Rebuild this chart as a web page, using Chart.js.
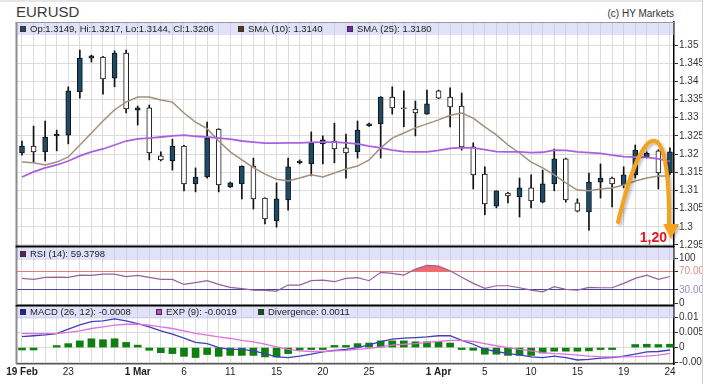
<!DOCTYPE html>
<html>
<head>
<meta charset="utf-8">
<title>EURUSD</title>
<script src="https://cdn.jsdelivr.net/npm/chart.js@4.4.1/dist/chart.umd.min.js"></script>
<style>
  html, body { margin: 0; padding: 0; background: #fff; }
  #wrap { position: relative; width: 708px; height: 384px; overflow: hidden; font-family: "Liberation Sans", Arial, sans-serif; }
  #wrap canvas { position: absolute; left: 0; top: 0; }
  #title { position: absolute; left: 16px; top: 4px; font-size: 15px; line-height: 15px; color: #3a3a3a; }
  #copy { position: absolute; right: 34px; top: 9px; font-size: 10px; line-height: 10px; color: #333; }
  #edge { position: absolute; left: 702px; top: 0; width: 6px; height: 384px; background: #fff; border-left: 1px solid #cfcfcf; z-index: 5; }
  #topEdge { position: absolute; left: 0; top: 0; width: 708px; height: 2px; background: #e6e6e6; z-index: 5; }
</style>
</head>
<body>
<div id="wrap">
  <div id="topEdge"></div>
  <div id="title">EURUSD</div>
  <div id="copy">(c) HY Markets</div>
  <canvas id="priceChart" width="708" height="384"></canvas>
  <canvas id="rsiChart" width="708" height="384"></canvas>
  <canvas id="macdChart" width="708" height="384"></canvas>
  <div id="edge"></div>
</div>
<script>
// EURUSD daily candles with SMA, RSI and MACD panels

const opens  = [1.3203, 1.3222, 1.3206, 1.3250, 1.3252, 1.3371, 1.3464, 1.3467, 1.3409, 1.3478,
                1.3321, 1.3327, 1.3195, 1.3181, 1.3222, 1.3118, 1.3137, 1.3269, 1.3110, 1.3118,
                1.3167, 1.3079, 1.3016, 1.3074, 1.3176, 1.3173, 1.3228, 1.3236, 1.3217, 1.3206,
                1.3278, 1.3283, 1.3357, 1.3327, 1.3324, 1.3310, 1.3374, 1.3357, 1.3332, 1.3220,
                1.3145, 1.3057, 1.3093, 1.3082, 1.3107, 1.3068, 1.3118, 1.3187, 1.3066, 1.3041,
                1.3123, 1.3134, 1.3115, 1.3143, 1.3192, 1.3209, 1.3149];
const highs  = [1.3236, 1.3277, 1.3291, 1.3266, 1.3385, 1.3486, 1.3472, 1.3469, 1.3484, 1.3486,
                1.3332, 1.3335, 1.3206, 1.3241, 1.3224, 1.3162, 1.3288, 1.3270, 1.3123, 1.3168,
                1.3189, 1.3080, 1.3121, 1.3189, 1.3184, 1.3261, 1.3250, 1.3285, 1.3255, 1.3291,
                1.3285, 1.3358, 1.3385, 1.3374, 1.3346, 1.3376, 1.3376, 1.3382, 1.3368, 1.3231,
                1.3165, 1.3099, 1.3095, 1.3134, 1.3143, 1.3156, 1.3214, 1.3189, 1.3077, 1.3148,
                1.3173, 1.3137, 1.3165, 1.3225, 1.3206, 1.3212, 1.3217];
const lows   = [1.3197, 1.3178, 1.3181, 1.3209, 1.3228, 1.3354, 1.3453, 1.3365, 1.3385, 1.3313,
                1.3280, 1.3184, 1.3181, 1.3156, 1.3099, 1.3096, 1.3134, 1.3096, 1.3108, 1.3077,
                1.3049, 1.3008, 1.2999, 1.3046, 1.3173, 1.3140, 1.3173, 1.3176, 1.3134, 1.3189,
                1.3276, 1.3189, 1.3310, 1.3275, 1.3250, 1.3310, 1.3352, 1.3275, 1.3211, 1.3104,
                1.3033, 1.3052, 1.3066, 1.3027, 1.3052, 1.3066, 1.3099, 1.3068, 1.3041, 1.2991,
                1.3079, 1.3055, 1.3107, 1.3134, 1.3189, 1.3104, 1.3144];
const closes = [1.3222, 1.3206, 1.3247, 1.3255, 1.3374, 1.3464, 1.3470, 1.3407, 1.3478, 1.3324,
                1.3327, 1.3203, 1.3184, 1.3222, 1.3118, 1.3137, 1.3244, 1.3115, 1.3121, 1.3167,
                1.3077, 1.3022, 1.3077, 1.3165, 1.3181, 1.3230, 1.3239, 1.3214, 1.3203, 1.3266,
                1.3283, 1.3357, 1.3327, 1.3325, 1.3313, 1.3338, 1.3354, 1.3330, 1.3220, 1.3143,
                1.3063, 1.3099, 1.3085, 1.3107, 1.3071, 1.3118, 1.3187, 1.3074, 1.3043, 1.3123,
                1.3134, 1.3118, 1.3143, 1.3211, 1.3203, 1.3148, 1.3206];

const sma10 = [1.3178, 1.3176, 1.3170, 1.3178, 1.3192, 1.3225, 1.3258, 1.3291, 1.3322, 1.3343,
               1.3357, 1.3357, 1.3349, 1.3343, 1.3313, 1.3288, 1.3270, 1.3236, 1.3206, 1.3184,
               1.3163, 1.3145, 1.3131, 1.3126, 1.3134, 1.3143, 1.3137, 1.3148, 1.3159, 1.3167,
               1.3184, 1.3217, 1.3244, 1.3258, 1.3272, 1.3283, 1.3294, 1.3307, 1.3313, 1.3299,
               1.3275, 1.3253, 1.3225, 1.3203, 1.3178, 1.3162, 1.3143, 1.3121, 1.3101, 1.3099,
               1.3104, 1.3107, 1.3115, 1.3126, 1.3134, 1.3140, 1.3140];
const sma25 = [1.3137, 1.3151, 1.3162, 1.3170, 1.3181, 1.3195, 1.3206, 1.3214, 1.3225, 1.3236,
               1.3242, 1.3244, 1.3247, 1.3250, 1.3252, 1.3249, 1.3247, 1.3244, 1.3241, 1.3236,
               1.3233, 1.3230, 1.3230, 1.3231, 1.3231, 1.3232, 1.3233, 1.3233, 1.3231, 1.3228,
               1.3222, 1.3217, 1.3211, 1.3207, 1.3206, 1.3206, 1.3210, 1.3216, 1.3218, 1.3217,
               1.3212, 1.3207, 1.3206, 1.3206, 1.3204, 1.3205, 1.3211, 1.3210, 1.3206, 1.3204,
               1.3202, 1.3197, 1.3193, 1.3192, 1.3191, 1.3187, 1.3180];

const rsi = [55.4, 53, 57.6, 57.9, 57.6, 62.6, 62, 64.8, 64.8, 59,
             62, 57.6, 53, 53, 42, 45.8, 50.2, 42, 35.5, 32.6,
             29.7, 29, 27.5, 40.7, 40.7, 50.2, 51.6, 48, 55.4, 56.8,
             50.2, 68.5, 66.3, 62.6, 75.8, 83.9, 82.4, 72.1, 57.6, 44.4,
             33.4, 39.1, 39.1, 34.7, 29.7, 25.9, 37, 31.2, 29.7, 35.5,
             34.7, 34.7, 44.4, 55.4, 62.6, 53.2, 59.3798];

const macd = [0.0036, 0.0039, 0.0042, 0.0046, 0.0061, 0.0075, 0.0086, 0.0088, 0.0095, 0.0088,
              0.0079, 0.0068, 0.0055, 0.0044, 0.0031, 0.0017, 0.0013, 0.0000, -0.0006, -0.0006,
              -0.0011, -0.0020, -0.0031, -0.0033, -0.0028, -0.0022, -0.0014, -0.0009, -0.0006, 0.0000,
              0.0009, 0.0020, 0.0028, 0.0031, 0.0033, 0.0035, 0.0039, 0.0039, 0.0024, 0.0011,
              -0.0006, -0.0013, -0.0020, -0.0024, -0.0031, -0.0033, -0.0028, -0.0033, -0.0041, -0.0039,
              -0.0035, -0.0033, -0.0028, -0.0022, -0.0014, -0.0013, -0.0008];
const signal = [0.0046, 0.0046, 0.0046, 0.0047, 0.0050, 0.0055, 0.0063, 0.0068, 0.0074, 0.0077,
                0.0077, 0.0074, 0.0068, 0.0063, 0.0055, 0.0047, 0.0041, 0.0035, 0.0030, 0.0024,
                0.0019, 0.0011, 0.0002, -0.0006, -0.0011, -0.0013, -0.0013, -0.0011, -0.0009, -0.0006,
                -0.0003, 0.0002, 0.0008, 0.0011, 0.0013, 0.0017, 0.0020, 0.0024, 0.0024, 0.0020,
                0.0013, 0.0006, 0.0000, -0.0006, -0.0011, -0.0017, -0.0020, -0.0022, -0.0025, -0.0028,
                -0.0030, -0.0031, -0.0031, -0.0030, -0.0028, -0.0025, -0.0019];
const divergence = [-0.0008, -0.0008, null, 0.0005, 0.0013, 0.0022, 0.0029, 0.0026, 0.0029, 0.0017,
                    0.0008, -0.0009, -0.0017, -0.0020, -0.0029, -0.0033, -0.0023, -0.0029, -0.0026, -0.0026,
                    -0.0026, -0.0031, -0.0031, -0.0020, -0.0008, -0.0003, -0.0003, 0.0007, 0.0007, 0.0013,
                    0.0015, 0.0022, 0.0022, 0.0022, 0.0019, 0.0019, 0.0019, 0.0015, -0.0003, -0.0009,
                    -0.0022, -0.0022, -0.0026, -0.0026, -0.0026, -0.0018, -0.0012, -0.0012, -0.0012, -0.0011,
                    -0.0004, -0.0003, null, 0.0010, 0.0011, 0.0010, 0.0011];

const dateSlots  = [0, 4, 10, 14, 18, 22, 26, 30, 36, 40, 44, 48, 52, 56];
const dateLabels = ['19 Feb', '23', '1 Mar', '6', '11', '15', '20', '25', '1 Apr', '5', '10', '15', '19', '24'];
const monthSlots = [0, 10, 36];

const priceTicks = [1.295, 1.3, 1.305, 1.31, 1.315, 1.32, 1.325, 1.33, 1.335, 1.34, 1.345, 1.35];
const rsiTicks   = [0, 30, 70, 100];
const macdTicks  = [-0.005, 0, 0.005, 0.01];

const slots = opens.map((_, i) => i);
const last = opens.length - 1;
const X_MIN = -0.432;
const X_MAX = 56.35;
const GRID = '#dcdcdc';
const FONT = '"Liberation Sans", Arial, sans-serif';

Chart.defaults.font.family = FONT;
Chart.defaults.font.size = 10;
Chart.defaults.color = '#333';
Chart.defaults.animation = false;

function points(values) {
    return values.map((v, i) => ({ x: i, y: v }));
}

// Shared x axis: one grid line per trading slot, date labels only on the bottom panel
function slotAxis(showLabels) {
    return {
        type: 'linear',
        min: X_MIN,
        max: X_MAX,
        offset: false,
        afterBuildTicks: scale => { scale.ticks = slots.map(v => ({ value: v })); },
        afterFit: scale => { scale.height = showLabels ? 14 : 0; },
        grid: { color: GRID, drawTicks: false, offset: false },
        border: { display: showLabels, color: '#555', width: 1.5 },
        ticks: {
            display: showLabels,
            autoSkip: false,
            maxRotation: 0,
            padding: 2,
            color: '#222',
            callback: value => {
                const k = dateSlots.indexOf(value);
                return k < 0 ? '' : dateLabels[k];
            },
            font: ctx => ({
                size: 10,
                weight: ctx.tick && monthSlots.includes(ctx.tick.value) ? 'bold' : 'normal'
            })
        }
    };
}

function valueAxis(min, max, tickValues, format) {
    return {
        position: 'right',
        min: min,
        max: max,
        afterBuildTicks: scale => { scale.ticks = tickValues.map(v => ({ value: v })); },
        afterFit: scale => { scale.width = 34; },
        grid: { color: GRID, tickColor: '#333', tickLength: 4 },
        border: { color: '#000', width: 1.5 },
        ticks: { padding: 1, color: '#333', callback: format }
    };
}

// Legend band, panel edges and legend entries
const panelDecor = {
    id: 'panelDecor',
    beforeDatasetsDraw(chart, args, opts) {
        const { ctx, chartArea: a } = chart;
        ctx.save();
        ctx.fillStyle = 'rgba(196, 196, 244, 0.5)';
        ctx.fillRect(a.left, a.top + opts.bandOffset, a.right - a.left, opts.bandHeight);
        ctx.restore();
    },
    afterDraw(chart, args, opts) {
        const { ctx, chartArea: a } = chart;
        ctx.save();
        ctx.strokeStyle = '#8c8c8c';
        ctx.lineWidth = 2;
        ctx.beginPath();
        ctx.moveTo(a.left - 0.5, a.top);
        ctx.lineTo(a.left - 0.5, a.bottom);
        ctx.stroke();

        ctx.strokeStyle = opts.topColor;
        ctx.lineWidth = opts.topWidth;
        ctx.beginPath();
        ctx.moveTo(a.left - 1.5, a.top + opts.topShift);
        ctx.lineTo(a.right, a.top + opts.topShift);
        ctx.stroke();

        const midY = a.top + opts.bandOffset + opts.bandHeight / 2;
        ctx.font = '9.5px ' + FONT;
        ctx.textBaseline = 'middle';
        opts.items.forEach(item => {
            ctx.fillStyle = item.color;
            ctx.fillRect(item.x, Math.round(midY) - 3, 6, 6);
            ctx.strokeStyle = '#333';
            ctx.lineWidth = 1;
            ctx.strokeRect(item.x + 0.5, Math.round(midY) - 2.5, 5, 5);
            ctx.fillStyle = '#222';
            ctx.fillText(item.text, item.x + 10, midY + 0.5);
        });
        ctx.restore();
    }
};

// Hand-drawn style forecast arrow, placed in data coordinates
const trendArrow = {
    id: 'trendArrow',
    afterDraw(chart, args, opts) {
        const { ctx, scales: { x, y } } = chart;
        const px = p => [x.getPixelForValue(p[0]), y.getPixelForValue(p[1])];
        const [s, c1, c2, e] = opts.curve.map(px);
        const head = opts.head.map(px);
        ctx.save();
        ctx.shadowColor = 'rgba(0, 0, 0, 0.25)';
        ctx.shadowBlur = 3;
        ctx.shadowOffsetX = 2;
        ctx.shadowOffsetY = 2;
        ctx.strokeStyle = opts.color;
        ctx.lineWidth = 4;
        ctx.lineCap = 'round';
        ctx.beginPath();
        ctx.moveTo(s[0], s[1]);
        ctx.bezierCurveTo(c1[0], c1[1], c2[0], c2[1], e[0], e[1]);
        ctx.stroke();
        ctx.fillStyle = opts.color;
        ctx.beginPath();
        ctx.moveTo(head[0][0], head[0][1]);
        ctx.lineTo(head[1][0], head[1][1]);
        ctx.lineTo(head[2][0], head[2][1]);
        ctx.closePath();
        ctx.fill();
        ctx.shadowColor = 'rgba(0, 0, 0, 0)';
        const t = px(opts.labelAt);
        ctx.font = 'bold 14px ' + FONT;
        ctx.fillStyle = '#e8141c';
        ctx.textAlign = 'right';
        ctx.textBaseline = 'alphabetic';
        ctx.fillText(opts.label, t[0], t[1]);
        ctx.restore();
    }
};

function initializePriceChart() {
    const ctx = document.getElementById('priceChart').getContext('2d');
    new Chart(ctx, {
        type: 'bar',
        data: {
            datasets: [{
                type: 'bar',
                data: slots.map(i => ({ x: i, y: [lows[i], highs[i]] })),
                backgroundColor: '#111',
                barThickness: 1,
                grouped: false,
                order: 3
            }, {
                type: 'bar',
                data: slots.map(i => ({ x: i, y: [opens[i], closes[i]] })),
                backgroundColor: slots.map(i => closes[i] >= opens[i] ? '#1d4b66' : '#ffffff'),
                borderColor: '#111',
                borderWidth: 1,
                borderSkipped: false,
                barThickness: 5,
                grouped: false,
                order: 2
            }, {
                type: 'line',
                data: points(sma10),
                borderColor: '#a3907a',
                borderWidth: 1.5,
                pointRadius: 0,
                order: 1
            }, {
                type: 'line',
                data: points(sma25),
                borderColor: '#a862e0',
                borderWidth: 1.8,
                pointRadius: 0,
                order: 0
            }]
        },
        options: {
            responsive: false,
            layout: { padding: { left: 17, top: 22, right: 0, bottom: 138 } },
            scales: {
                x: slotAxis(false),
                y: valueAxis(1.29472, 1.35633, priceTicks, v => String(+v.toFixed(3)))
            },
            plugins: {
                legend: { display: false },
                tooltip: { enabled: false },
                panelDecor: {
                    bandOffset: 1,
                    bandHeight: 12,
                    topColor: '#999',
                    topWidth: 1,
                    topShift: 0.5,
                    items: [
                        { x: 20, color: '#1d4b66', text: `Op:${opens[last].toFixed(4)}, Hi:${highs[last].toFixed(4)}, Lo:${lows[last].toFixed(4)}, Cl:${closes[last].toFixed(4)}` },
                        { x: 238, color: '#5a3716', text: `SMA (10): ${sma10[last].toFixed(4)}` },
                        { x: 347, color: '#7a1fd0', text: `SMA (25): ${sma25[last].toFixed(4)}` }
                    ]
                },
                trendArrow: {
                    color: '#f5a21e',
                    curve: [[51.51, 1.30132], [53.67, 1.32992], [56.0, 1.33267], [55.92, 1.30022]],
                    head: [[56.09, 1.29666], [55.41, 1.30077], [56.78, 1.30077]],
                    labelAt: [55.75, 1.29582],
                    label: '1,20'
                }
            }
        },
        plugins: [panelDecor, trendArrow]
    });
}

function initializeRsiChart() {
    const ctx = document.getElementById('rsiChart').getContext('2d');
    const rsiAxis = valueAxis(-1, 124.3, rsiTicks, v => (v === 70 || v === 30) ? v.toFixed(2) : String(v));
    rsiAxis.grid.color = c => c.tick && c.tick.value === 70 ? '#e07a7a' : (c.tick && c.tick.value === 30 ? '#4545a0' : 'rgba(0, 0, 0, 0)');
    rsiAxis.ticks.color = c => c.tick && c.tick.value === 70 ? '#e08c8c' : (c.tick && c.tick.value === 30 ? '#8c8cd0' : '#333');
    new Chart(ctx, {
        type: 'line',
        data: {
            datasets: [{
                data: points(rsi),
                borderColor: '#96609a',
                borderWidth: 1.2,
                pointRadius: 0,
                fill: { target: { value: 70 }, above: '#f26b6b', below: 'rgba(0, 0, 0, 0)' }
            }]
        },
        options: {
            responsive: false,
            layout: { padding: { left: 17, top: 247, right: 0, bottom: 80 } },
            scales: {
                x: slotAxis(false),
                y: rsiAxis
            },
            plugins: {
                legend: { display: false },
                tooltip: { enabled: false },
                panelDecor: {
                    bandOffset: 1,
                    bandHeight: 12,
                    topColor: '#000',
                    topWidth: 2,
                    topShift: -0.5,
                    items: [
                        { x: 20, color: '#6a1a5a', text: `RSI (14): ${rsi[last].toFixed(4)}` }
                    ]
                }
            }
        },
        plugins: [panelDecor]
    });
}

function initializeMacdChart() {
    const ctx = document.getElementById('macdChart').getContext('2d');
    new Chart(ctx, {
        type: 'bar',
        data: {
            datasets: [{
                type: 'bar',
                data: points(divergence),
                backgroundColor: '#0f7f0f',
                barThickness: 7,
                minBarLength: 2,
                grouped: false,
                order: 2
            }, {
                type: 'line',
                data: points(macd),
                borderColor: '#3f3fb8',
                borderWidth: 1.3,
                pointRadius: 0,
                order: 1
            }, {
                type: 'line',
                data: points(signal),
                borderColor: '#e070e0',
                borderWidth: 1.3,
                pointRadius: 0,
                order: 0
            }]
        },
        options: {
            responsive: false,
            layout: { padding: { left: 17, top: 306, right: 0, bottom: 6 } },
            scales: {
                x: slotAxis(true),
                y: valueAxis(-0.00543, 0.01373, macdTicks, v => String(+v.toFixed(3)))
            },
            plugins: {
                legend: { display: false },
                tooltip: { enabled: false },
                panelDecor: {
                    bandOffset: 0,
                    bandHeight: 12.5,
                    topColor: '#000',
                    topWidth: 2,
                    topShift: -0.5,
                    items: [
                        { x: 20, color: '#1c1cc8', text: `MACD (26, 12): ${macd[last].toFixed(4)}` },
                        { x: 156, color: '#d040d0', text: `EXP (9): ${signal[last].toFixed(4)}` },
                        { x: 258, color: '#0d5a0d', text: `Divergence: ${divergence[last].toFixed(4)}` }
                    ]
                }
            }
        },
        plugins: [panelDecor]
    });
}

initializePriceChart();
initializeRsiChart();
initializeMacdChart();
</script>
</body>
</html>
